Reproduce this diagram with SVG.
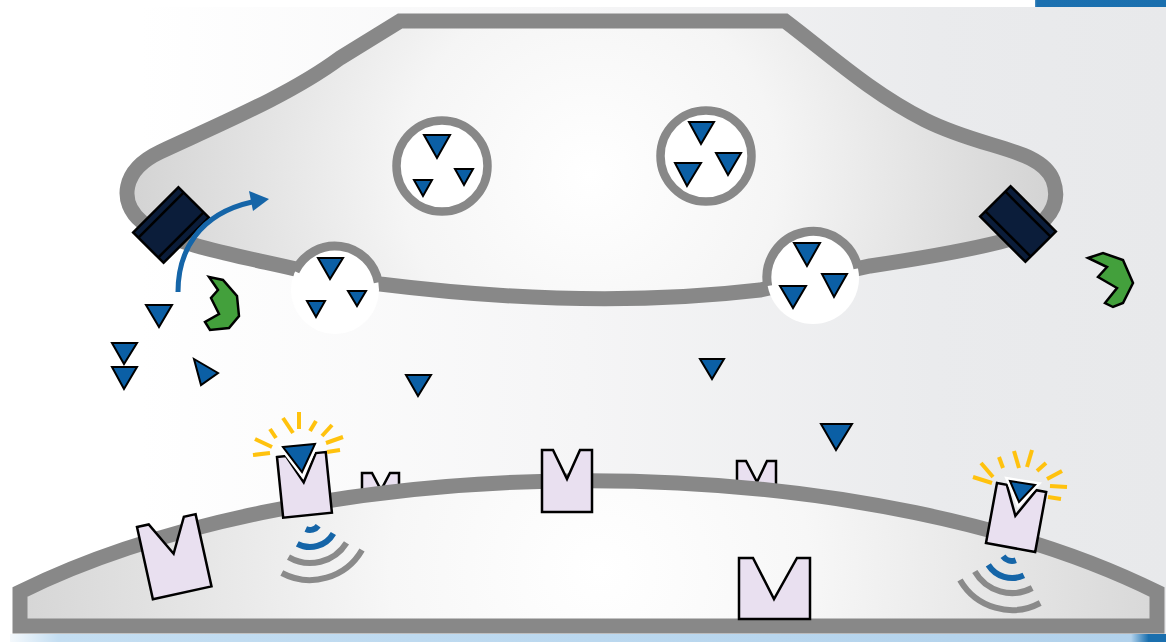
<svg xmlns="http://www.w3.org/2000/svg" width="1166" height="642" viewBox="0 0 1166 642">
  <defs>
    <linearGradient id="bgGrad" x1="0" y1="0" x2="1166" y2="0" gradientUnits="userSpaceOnUse">
      <stop offset="0" stop-color="#ffffff"/>
      <stop offset="0.12" stop-color="#ffffff"/>
      <stop offset="0.5" stop-color="#f5f5f6"/>
      <stop offset="0.8" stop-color="#eaebed"/>
      <stop offset="1" stop-color="#e8e9eb"/>
    </linearGradient>
    <radialGradient id="preGrad" gradientUnits="userSpaceOnUse" cx="590" cy="175" r="470">
      <stop offset="0" stop-color="#ffffff"/>
      <stop offset="0.4" stop-color="#f5f5f5"/>
      <stop offset="1" stop-color="#d2d2d2"/>
    </radialGradient>
    <radialGradient id="postGrad" gradientUnits="userSpaceOnUse" cx="600" cy="570" r="600">
      <stop offset="0" stop-color="#ffffff"/>
      <stop offset="0.35" stop-color="#f7f7f7"/>
      <stop offset="1" stop-color="#d4d4d4"/>
    </radialGradient>
    <linearGradient id="stripGrad" x1="0" y1="0" x2="1166" y2="0" gradientUnits="userSpaceOnUse">
      <stop offset="0" stop-color="#ffffff"/>
      <stop offset="0.05" stop-color="#c4def2"/>
      <stop offset="0.97" stop-color="#b2d2ec"/>
      <stop offset="0.985" stop-color="#1a6fae"/>
      <stop offset="1" stop-color="#1a6fae"/>
    </linearGradient>
    <linearGradient id="barGrad" x1="1030" y1="0" x2="1166" y2="0" gradientUnits="userSpaceOnUse">
      <stop offset="0" stop-color="#e6eef5"/>
      <stop offset="0.05" stop-color="#1b70b0"/>
      <stop offset="1" stop-color="#1a6fae"/>
    </linearGradient>
    <style>
      .mem { stroke: #888888; stroke-width: 15; stroke-linejoin: miter; }
      .ves { fill: #ffffff; stroke: #888888; stroke-width: 8.5; }
      .vesArc { fill: none; stroke: #888888; stroke-width: 9; }
      .nt { fill: #0b5fa5; stroke: #000000; stroke-width: 2; stroke-linejoin: miter; }
      .ntHalo { fill: #ffffff; stroke: #ffffff; stroke-width: 7; stroke-linejoin: miter; }
      .rcp { fill: #e9e0f0; stroke: #000000; stroke-width: 2.5; stroke-linejoin: miter; }
      .ray { stroke: #ffc20e; stroke-width: 4; }
      .waveB { fill: none; stroke: #1565a8; stroke-width: 6; }
      .waveG { fill: none; stroke: #8a8a8a; stroke-width: 6; }
      .enz { fill: #43a03c; stroke: #000000; stroke-width: 2.5; stroke-linejoin: miter; }
      .trans { fill: #0b1d3a; stroke: #000000; stroke-width: 2.5; }
      .stripe { stroke: #000000; stroke-width: 2.5; }
    </style>
  </defs>

  <!-- page background -->
  <rect x="0" y="0" width="1166" height="642" fill="#ffffff"/>
  <rect x="10" y="7" width="1156" height="628" fill="url(#bgGrad)"/>
  <rect x="1035" y="0" width="131" height="7" fill="url(#barGrad)"/>
  <rect x="10" y="634" width="1156" height="8" fill="url(#stripGrad)"/>

  <!-- presynaptic terminal -->
  <g id="presynaptic">
    <path class="mem" fill="url(#preGrad)" d="M 400,21 L 785,21 C 830,55 870,92 925,120 C 985,150 1040,148 1053,180 C 1064,210 1040,232 1000,242 C 960,252 910,260 870,266 L 760,290 Q 590,310 380,284 L 300,270 C 250,258 170,245 142,222 C 118,202 122,170 160,152 C 220,124 290,95 340,58 Z"/>
  </g>

  <!-- vesicles in the terminal -->
  <g id="vesicle-1">
    <circle class="ves" cx="442" cy="166" r="45.5"/>
    <polygon class="nt" points="424,135 450,135 437,158"/>
    <polygon class="nt" points="414,180 432,180 423,196"/>
    <polygon class="nt" points="455,169 473,169 464,185"/>
  </g>
  <g id="vesicle-2">
    <circle class="ves" cx="706" cy="156" r="45.5"/>
    <polygon class="nt" points="689,122 714,122 701,144"/>
    <polygon class="nt" points="675,163 701,163 687,186"/>
    <polygon class="nt" points="716,153 741,153 728,175"/>
  </g>

  <!-- vesicles fused with the membrane -->
  <g id="vesicle-fused-1">
    <circle cx="335" cy="290" r="44" fill="#ffffff"/>
    <path class="vesArc" d="M 295.1,271.4 A 44,44 0 0 1 378.3,282.4"/>
    <polygon class="nt" points="318,258 343,258 330,279"/>
    <polygon class="nt" points="307,301 325,301 316,317"/>
    <polygon class="nt" points="348,291 366,291 357,306"/>
  </g>
  <g id="vesicle-fused-2">
    <circle cx="813" cy="278" r="46" fill="#ffffff"/>
    <path class="vesArc" d="M 767.7,286 A 46,46 0 0 1 858,268.4"/>
    <polygon class="nt" points="794,243 820,243 807,266"/>
    <polygon class="nt" points="780,286 806,286 793,308"/>
    <polygon class="nt" points="822,274 847,274 834,297"/>
  </g>

  <!-- reuptake transporters -->
  <g id="transporter-left" transform="translate(171,225) rotate(-45)">
    <rect class="trans" x="-32" y="-21.5" width="64" height="43"/>
    <line class="stripe" x1="-32" y1="-14" x2="32" y2="-14"/>
    <line class="stripe" x1="-32" y1="14" x2="32" y2="14"/>
  </g>
  <g id="transporter-right" transform="translate(1018,224) rotate(45)">
    <rect class="trans" x="-32" y="-21.5" width="64" height="43"/>
    <line class="stripe" x1="-32" y1="-14" x2="32" y2="-14"/>
    <line class="stripe" x1="-32" y1="14" x2="32" y2="14"/>
  </g>

  <!-- degrading enzymes -->
  <g id="enzyme-left">
    <polygon class="enz" points="209,277 223,280 237,296 239,316 229,328 210,330 205,322 219,314 211,298 218,290"/>
  </g>
  <g id="enzyme-right">
    <polygon class="enz" points="1088,258 1103,253 1123,260 1133,283 1123,303 1113,307 1105,303 1117,288 1098,277 1107,267"/>
  </g>

  <!-- receptors lying behind the postsynaptic membrane -->
  <g id="receptor-hidden-1">
    <polygon class="rcp" points="362,473 372,473 381,490 390,473 399,473 399,515 362,515"/>
  </g>
  <g id="receptor-hidden-2">
    <polygon class="rcp" points="737,461 746,461 757,482 767,461 776,461 776,505 737,505"/>
  </g>

  <!-- postsynaptic cell -->
  <g id="postsynaptic">
    <path class="mem" fill="url(#postGrad)" d="M 20,626 L 20,592 A 750,320 0 0 1 1157,592 L 1157,626 Z"/>
  </g>

  <!-- free neurotransmitter in the cleft -->
  <g id="transmitters">
    <polygon class="nt" points="146,305 172,305 159,327"/>
    <polygon class="nt" points="112,343 137,343 124,364"/>
    <polygon class="nt" points="112,367 137,367 124,389"/>
    <polygon class="nt" points="194,359 218,373 201,385"/>
    <polygon class="nt" points="406,375 431,375 418,396"/>
    <polygon class="nt" points="700,359 724,359 712,379"/>
    <polygon class="nt" points="821,424 852,424 836,450"/>
  </g>

  <!-- receptors -->
  <g id="receptor-a" transform="translate(137,527) rotate(-12.4)">
    <polygon class="rcp" points="0,0 12,0 30,34 48,0 60,0 60,74 0,74"/>
  </g>
  <g id="receptor-c">
    <polygon class="rcp" points="542,450 553,450 567,479 580,450 592,450 592,512 542,512"/>
  </g>
  <g id="receptor-d">
    <polygon class="rcp" points="739,558 753,558 774,599 797,558 810,558 810,619 739,619"/>
  </g>

  <!-- activated receptor, left -->
  <g id="receptor-active-left">
    <g transform="translate(277,457) rotate(-5.8)">
      <polygon class="rcp" points="0,0 9,0 24,28 39,0 49,0 49,61 0,61"/>
    </g>
    <polygon class="ntHalo" points="283,447 315,444 302,472"/>
    <polygon class="nt" points="283,447 315,444 302,472"/>
    <g class="ray">
      <line x1="253" y1="455" x2="270" y2="453"/>
      <line x1="255" y1="439" x2="272" y2="447"/>
      <line x1="270" y1="429" x2="276" y2="438"/>
      <line x1="283" y1="418" x2="293" y2="433"/>
      <line x1="299" y1="412" x2="299" y2="429"/>
      <line x1="316" y1="421" x2="310" y2="431"/>
      <line x1="332" y1="425" x2="322" y2="436"/>
      <line x1="343" y1="437" x2="326" y2="443"/>
      <line x1="340" y1="450" x2="327" y2="452"/>
    </g>
    <path class="waveB" d="M 305.8,529.1 A 10,10 0 0 0 318.2,525.7"/>
    <path class="waveB" d="M 297.3,543.8 A 27,27 0 0 0 333.4,533.5"/>
    <path class="waveG" d="M 288.5,557.2 A 43,43 0 0 0 346.5,542.8"/>
    <path class="waveG" d="M 281.8,573 A 60,60 0 0 0 362,550"/>
  </g>

  <!-- activated receptor, right -->
  <g id="receptor-active-right">
    <g transform="translate(997,483) rotate(10.4)">
      <polygon class="rcp" points="0,0 10,0 24,29 40,0 50,0 50,61 0,61"/>
    </g>
    <polygon class="ntHalo" points="1010,481 1035,485 1019,502"/>
    <polygon class="nt" points="1010,481 1035,485 1019,502"/>
    <g class="ray">
      <line x1="973" y1="477" x2="992" y2="483"/>
      <line x1="981" y1="463" x2="993" y2="477"/>
      <line x1="999" y1="457" x2="1003" y2="468"/>
      <line x1="1014" y1="451" x2="1019" y2="468"/>
      <line x1="1032" y1="450" x2="1027" y2="467"/>
      <line x1="1046" y1="463" x2="1037" y2="471"/>
      <line x1="1062" y1="471" x2="1047" y2="479"/>
      <line x1="1067" y1="487" x2="1050" y2="486"/>
      <line x1="1061" y1="499" x2="1048" y2="497"/>
    </g>
    <path class="waveB" d="M 1003,556.3 A 11,11 0 0 0 1015.8,560.3"/>
    <path class="waveB" d="M 988.3,564.8 A 28,28 0 0 0 1023.8,575.4"/>
    <path class="waveG" d="M 974.8,571.5 A 43,43 0 0 0 1032.2,588"/>
    <path class="waveG" d="M 960,580 A 60,60 0 0 0 1040.2,603"/>
  </g>

  <!-- reuptake arrow -->
  <g id="connectors">
    <path d="M 178,292 C 178,252 198,214 252,202" fill="none" stroke="#1565a8" stroke-width="5"/>
    <polygon points="269,199 249,191 253,211" fill="#1565a8"/>
  </g>
</svg>
